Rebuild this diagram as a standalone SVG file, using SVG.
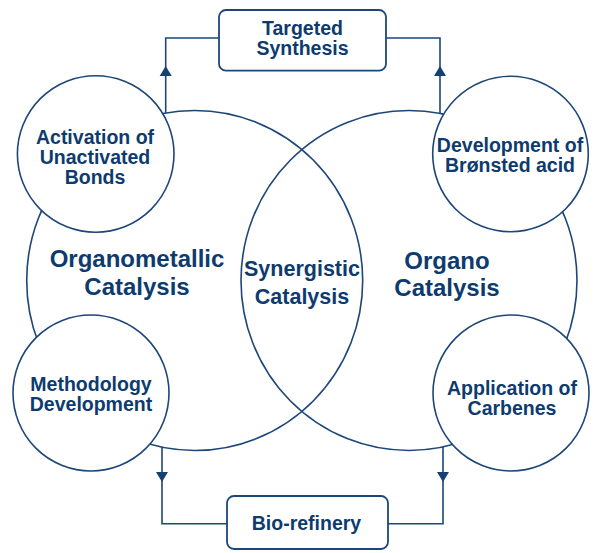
<svg xmlns="http://www.w3.org/2000/svg" width="600" height="553" viewBox="0 0 600 553">
<style>
.ln{fill:none;stroke:#1d4679;stroke-width:1.6}
.sc{fill:#fff;stroke:#1d4679;stroke-width:1.6}
.bx{fill:#fff;stroke:#1d4679;stroke-width:1.8}
.ah{fill:#163f72}
text{font-family:"Liberation Sans",Arial,Helvetica,sans-serif;font-weight:bold;fill:#0e3b6e;text-anchor:middle}
.s{font-size:19.5px}
.b{font-size:24px}
.m{font-size:21.5px}
</style>
<defs>
<path id="arrow" d="M0,0 L6,10 L-6,10 Z"/>
</defs>
<rect width="600" height="553" fill="#fff"/>
<g id="organometallic">
<ellipse class="ln" cx="194.7" cy="280.5" rx="168" ry="170"/>
</g>
<g id="organo">
<ellipse class="ln" cx="409" cy="280.5" rx="168" ry="170"/>
</g>
<g id="labels-main">
<text class="b" x="137" y="267">Organometallic</text>
<text class="b" x="137" y="295">Catalysis</text>
<text class="b" x="447" y="269">Organo</text>
<text class="b" x="447" y="296">Catalysis</text>
</g>
<g id="synergistic">
<text class="m" x="302" y="276">Synergistic</text>
<text class="m" x="302" y="303.5">Catalysis</text>
</g>
<g id="connectors">
<path class="ln" d="M165.7,113 L165.7,38 L219,38"/>
<path class="ln" d="M440,113.5 L440,38 L386,38"/>
<path class="ln" d="M162,447 L162,523.7 L227,523.7"/>
<path class="ln" d="M443,447 L443,523.7 L388,523.7"/>
<use href="#arrow" class="ah" transform="translate(165.7,66)"/>
<use href="#arrow" class="ah" transform="translate(440,66)"/>
<use href="#arrow" class="ah" transform="translate(162,482) rotate(180)"/>
<use href="#arrow" class="ah" transform="translate(443,482) rotate(180)"/>
</g>
<g id="activation">
<circle class="sc" cx="95.7" cy="154" r="78.3"/>
<text class="s" x="95" y="144">Activation of</text>
<text class="s" x="95" y="164">Unactivated</text>
<text class="s" x="95" y="184">Bonds</text>
</g>
<g id="bronsted">
<circle class="sc" cx="510.5" cy="154" r="77.8"/>
<text class="s" x="510" y="152.2">Development of</text>
<text class="s" x="510" y="172.2">Brønsted acid</text>
</g>
<g id="methodology">
<circle class="sc" cx="91" cy="393" r="78"/>
<text class="s" x="91" y="391.2">Methodology</text>
<text class="s" x="91" y="411.2">Development</text>
</g>
<g id="carbenes">
<circle class="sc" cx="511" cy="393" r="78"/>
<text class="s" x="512" y="394.7">Application of</text>
<text class="s" x="512" y="414.7">Carbenes</text>
</g>
<g id="targeted">
<rect class="bx" x="219" y="10" width="167" height="60.7" rx="7"/>
<text class="s" x="302.5" y="35.2">Targeted</text>
<text class="s" x="302.5" y="55.2">Synthesis</text>
</g>
<g id="biorefinery">
<rect class="bx" x="227" y="496" width="161" height="53" rx="7"/>
<text class="s" x="306.5" y="530">Bio-refinery</text>
</g>
</svg>
